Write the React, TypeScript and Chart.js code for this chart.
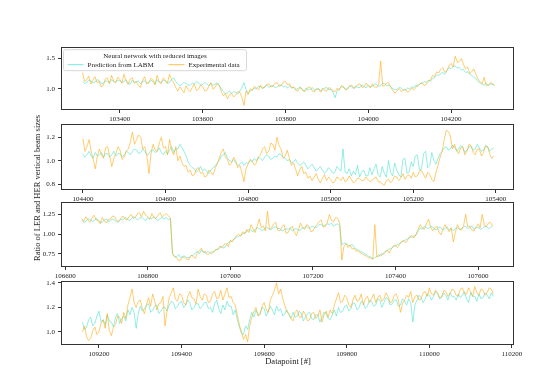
import React, { useEffect, useRef } from "react";
import { Chart, registerables } from "chart.js";
Chart.register(...registerables);

const STEP = 5;
const FONT = "'Liberation Serif', 'DejaVu Serif', serif";

// Panel 1
const p1Start = 103310;
const p1Pred = [
  1.12, 1.09, 1.10, 1.14, 1.13, 1.10, 1.11, 1.15, 1.14, 1.08, 1.09, 1.13, 1.12, 1.10, 1.15, 1.12, 1.11, 1.14, 1.13, 1.10,
  1.12, 1.15, 1.10, 1.07, 1.14, 1.11, 1.11, 1.13, 1.08, 1.12, 1.13, 1.09, 1.10, 1.14, 1.12, 1.08, 1.15, 1.11, 1.11, 1.14,
  1.13, 1.09, 1.10, 1.15, 1.18, 1.12, 1.08, 1.05, 1.07, 1.10, 1.09, 1.06, 1.06, 1.09, 1.08, 1.11, 1.10, 1.06, 1.07, 1.10,
  1.08, 1.05, 1.09, 1.06, 1.07, 1.10, 1.06, 1.00, 0.95, 0.92, 0.93, 0.96, 0.92, 0.95, 0.94, 0.91, 0.96, 1.02, 1.10, 0.98,
  0.93, 0.96, 0.98, 1.01, 1.00, 1.04, 1.03, 1.00, 1.04, 1.06, 1.02, 1.05, 1.05, 1.02, 1.03, 1.06, 1.06, 1.03, 1.04, 1.01,
  1.05, 1.01, 1.02, 0.99, 1.00, 1.03, 0.98, 0.96, 1.01, 0.98, 0.99, 1.02, 0.97, 0.99, 1.00, 0.97, 0.98, 1.01, 1.02, 0.98,
  0.99, 0.94, 0.85, 0.97, 1.00, 1.03, 1.02, 0.99, 1.01, 1.04, 1.03, 1.00, 1.05, 1.02, 1.02, 1.06, 1.04, 1.01, 1.06, 1.03,
  1.04, 1.08, 1.07, 1.04, 1.05, 1.09, 1.08, 1.05, 1.06, 1.02, 1.00, 0.98, 0.99, 1.02, 1.01, 0.97, 0.98, 1.01, 1.00, 1.03,
  1.02, 1.06, 1.05, 1.09, 1.08, 1.12, 1.10, 1.14, 1.12, 1.17, 1.18, 1.23, 1.22, 1.25, 1.27, 1.24, 1.30, 1.35, 1.33, 1.37,
  1.38, 1.34, 1.35, 1.31, 1.32, 1.27, 1.28, 1.24, 1.22, 1.19, 1.17, 1.12, 1.10, 1.07, 1.06, 1.09, 1.05, 1.08, 1.07, 1.06,
];
const p1Exp = [
  1.27, 1.12, 1.15, 1.21, 1.08, 1.14, 1.20, 1.10, 1.12, 1.03, 1.05, 1.16, 1.18, 1.08, 1.22, 1.13, 1.10, 1.19, 1.16, 1.09,
  1.24, 1.13, 1.07, 1.16, 1.18, 1.09, 1.12, 1.05, 1.02, 1.14, 1.20, 1.08, 1.10, 1.17, 1.15, 1.06, 1.22, 1.12, 1.08, 1.18,
  1.14, 1.09, 1.24, 1.15, 1.10, 1.02, 0.96, 1.03, 0.98, 0.93, 1.05, 0.99, 0.95, 1.02, 1.08, 0.97, 0.99, 1.06, 1.04, 0.96,
  0.97, 1.04, 1.10, 0.99, 1.02, 1.08, 1.06, 0.95, 0.88, 0.92, 0.83, 0.90, 0.92, 0.86, 0.90, 0.95, 0.94, 0.85, 0.72, 0.96,
  0.90, 1.00, 0.97, 1.04, 1.01, 0.98, 1.06, 1.01, 1.02, 1.07, 1.08, 1.03, 1.04, 1.09, 1.10, 1.04, 1.05, 1.11, 1.12, 1.06,
  1.08, 1.01, 1.03, 0.97, 0.96, 1.02, 1.00, 0.95, 0.97, 1.03, 1.02, 0.96, 0.95, 1.00, 0.99, 0.94, 1.01, 0.97, 0.96, 1.02,
  1.00, 0.96, 0.95, 1.01, 0.97, 1.05, 1.04, 0.98, 0.99, 1.05, 1.06, 1.01, 1.02, 1.07, 1.08, 1.02, 1.03, 1.09, 1.05, 1.01,
  1.08, 1.03, 1.02, 1.07, 1.46, 1.04, 1.05, 1.10, 1.09, 1.02, 0.96, 0.93, 0.97, 1.00, 0.95, 0.98, 0.99, 0.94, 0.96, 1.01,
  0.98, 1.03, 1.04, 1.08, 1.10, 1.05, 1.07, 1.13, 1.14, 1.22, 1.20, 1.28, 1.26, 1.32, 1.35, 1.27, 1.30, 1.38, 1.42, 1.36,
  1.54, 1.44, 1.45, 1.50, 1.40, 1.33, 1.36, 1.25, 1.28, 1.33, 1.24, 1.16, 1.12, 1.08, 1.19, 1.05, 1.06, 1.10, 1.08, 1.05,
];
const p1XTicks = [103400, 103600, 103800, 104000, 104200];
const p1YTicks = [1.0, 1.5];

// Panel 2
const p2Start = 104400;
const p2Pred = [
  1.06, 1.03, 1.05, 1.08, 1.04, 1.02, 1.07, 1.04, 1.05, 1.07, 1.03, 1.06, 1.06, 1.03, 1.05, 1.08, 1.04, 1.06, 1.06, 1.03,
  1.05, 1.08, 1.07, 1.05, 1.08, 1.10, 1.09, 1.06, 1.07, 1.10, 1.08, 1.05, 1.06, 1.09, 1.09, 1.07, 1.08, 1.11, 1.07, 1.05,
  1.08, 1.06, 1.09, 1.12, 1.07, 1.10, 1.10, 1.14, 1.11, 1.08, 1.04, 0.99, 0.96, 0.94, 0.93, 0.90, 0.92, 0.95, 0.91, 0.93,
  0.91, 0.89, 0.92, 0.94, 0.95, 0.98, 1.00, 1.04, 1.05, 1.07, 1.02, 1.00, 0.99, 1.01, 0.98, 0.96, 0.97, 0.99, 0.96, 0.98,
  0.98, 1.00, 0.99, 1.02, 1.00, 1.03, 1.02, 1.00, 1.03, 1.05, 1.04, 1.01, 1.02, 1.04, 1.03, 1.06, 1.05, 1.03, 1.02, 1.00,
  1.01, 0.98, 0.99, 1.01, 0.98, 0.96, 0.97, 0.99, 0.96, 0.93, 0.95, 0.97, 0.94, 0.91, 0.93, 0.95, 0.92, 0.89, 0.91, 0.94,
  0.92, 0.89, 0.90, 0.95, 0.93, 0.91, 1.10, 0.90, 0.89, 0.93, 0.87, 0.91, 0.88, 0.96, 0.86, 0.90, 0.92, 0.87, 0.87, 0.94,
  0.88, 0.93, 0.97, 0.88, 0.86, 0.95, 0.89, 0.86, 1.00, 0.90, 0.87, 0.98, 0.92, 0.88, 0.86, 1.01, 1.02, 0.89, 0.90, 0.99,
  0.95, 1.04, 1.05, 0.92, 0.93, 1.06, 1.08, 0.94, 0.96, 1.07, 1.00, 0.97, 1.02, 1.06, 1.08, 1.11, 1.12, 1.09, 1.10, 1.13,
  1.12, 1.08, 1.10, 1.13, 1.11, 1.07, 1.09, 1.12, 1.12, 1.09, 1.10, 1.14, 1.11, 1.08, 1.09, 1.13, 1.12, 1.08, 1.10, 1.11,
];
const p2Exp = [
  1.19, 1.08, 1.12, 1.18, 1.08, 1.01, 0.93, 1.04, 1.10, 1.05, 1.02, 1.11, 1.12, 1.03, 0.95, 1.02, 1.06, 1.12, 1.09, 1.01,
  1.03, 1.08, 1.10, 1.16, 1.245, 1.14, 1.18, 1.22, 1.20, 1.10, 1.12, 1.04, 0.89, 1.06, 1.14, 1.09, 1.08, 1.15, 1.20, 1.11,
  1.12, 1.05, 1.18, 1.09, 1.05, 1.12, 1.00, 1.04, 0.98, 0.95, 0.96, 0.90, 0.92, 0.87, 0.88, 0.93, 0.94, 0.89, 0.90, 0.86,
  0.87, 0.92, 0.90, 0.88, 0.93, 0.97, 1.02, 1.07, 1.10, 1.03, 1.01, 0.96, 0.98, 1.03, 1.00, 0.94, 0.96, 0.90, 0.82, 0.93,
  0.97, 1.01, 1.00, 0.96, 0.98, 1.03, 1.05, 1.10, 1.12, 1.06, 1.08, 1.15, 1.14, 1.09, 1.20, 1.13, 1.10, 1.02, 1.04, 1.09,
  1.02, 0.96, 0.98, 0.93, 0.87, 0.92, 0.95, 0.89, 0.90, 0.85, 0.87, 0.83, 0.86, 0.89, 0.84, 0.81, 0.85, 0.88, 0.83, 0.86,
  0.84, 0.81, 0.82, 0.86, 0.85, 0.83, 0.86, 0.82, 0.83, 0.87, 0.84, 0.81, 0.82, 0.85, 0.85, 0.83, 0.83, 0.86, 0.84, 0.82,
  0.83, 0.85, 0.86, 0.82, 0.82, 0.80, 0.79, 0.83, 0.84, 0.81, 0.83, 0.87, 0.86, 0.83, 0.85, 0.89, 0.84, 0.87, 0.88, 0.85,
  0.90, 0.86, 0.87, 0.91, 0.92, 0.88, 0.85, 0.90, 0.88, 0.84, 0.82, 0.90, 0.96, 1.03, 1.08, 1.18, 1.26, 1.25, 1.21, 1.10,
  1.14, 1.09, 1.06, 1.11, 1.12, 1.05, 1.08, 1.14, 1.13, 1.07, 1.05, 1.10, 1.10, 1.04, 1.07, 1.12, 1.12, 1.06, 1.02, 1.04,
];
const p2XTicks = [104400, 104600, 104800, 105000, 105200, 105400];
const p2YTicks = [0.8, 1.0, 1.2];

// Panel 3
const p3Start = 106640;
const p3Pred = [
  1.18, 1.15, 1.16, 1.19, 1.19, 1.16, 1.17, 1.20, 1.18, 1.15, 1.15, 1.18, 1.19, 1.16, 1.17, 1.19, 1.18, 1.15, 1.16, 1.19,
  1.18, 1.21, 1.20, 1.17, 1.19, 1.22, 1.21, 1.18, 1.20, 1.22, 1.19, 1.17, 1.21, 1.19, 1.20, 1.22, 1.19, 1.17, 1.20, 1.21,
  1.19, 1.21, 1.18, 1.20, 0.75, 0.72, 0.71, 0.74, 0.70, 0.72, 0.72, 0.70, 0.70, 0.73, 0.73, 0.76, 0.78, 0.75, 0.80, 0.77,
  0.76, 0.78, 0.77, 0.75, 0.78, 0.81, 0.80, 0.83, 0.84, 0.82, 0.86, 0.89, 0.90, 0.92, 0.94, 0.96, 0.97, 0.99, 1.00, 1.02,
  1.03, 1.06, 1.05, 1.03, 1.06, 1.08, 1.07, 1.05, 1.05, 1.08, 1.08, 1.06, 1.06, 1.09, 1.09, 1.07, 1.07, 1.04, 1.05, 1.07,
  1.06, 1.08, 1.04, 1.06, 1.07, 1.05, 1.05, 1.08, 1.08, 1.10, 1.07, 1.09, 1.10, 1.08, 1.09, 1.12, 1.12, 1.10, 1.11, 1.13,
  1.12, 1.14, 1.10, 1.12, 1.13, 1.11, 0.86, 0.89, 0.88, 0.86, 0.85, 0.87, 0.83, 0.81, 0.80, 0.78, 0.77, 0.75, 0.74, 0.72,
  0.71, 0.69, 0.70, 0.72, 0.74, 0.72, 0.76, 0.78, 0.79, 0.81, 0.82, 0.84, 0.85, 0.87, 0.88, 0.90, 0.91, 0.93, 0.94, 0.96,
  0.96, 0.98, 0.99, 1.04, 1.08, 1.06, 1.10, 1.08, 1.07, 1.10, 1.09, 1.06, 1.06, 1.09, 1.08, 1.05, 1.07, 1.09, 1.05, 1.07,
  1.04, 1.07, 1.08, 1.06, 1.07, 1.09, 1.10, 1.07, 1.08, 1.10, 1.06, 1.08, 1.09, 1.06, 1.07, 1.10, 1.10, 1.07, 1.08, 1.10,
];
const p3Exp = [
  1.20, 1.16, 1.22, 1.18, 1.15, 1.20, 1.24, 1.18, 1.17, 1.13, 1.21, 1.17, 1.14, 1.19, 1.19, 1.23, 1.22, 1.17, 1.16, 1.20,
  1.23, 1.19, 1.18, 1.22, 1.25, 1.20, 1.21, 1.26, 1.27, 1.22, 1.29, 1.24, 1.22, 1.19, 1.26, 1.21, 1.20, 1.24, 1.27, 1.22,
  1.24, 1.26, 1.23, 1.20, 0.76, 0.71, 0.70, 0.66, 0.67, 0.71, 0.70, 0.68, 0.68, 0.73, 0.72, 0.69, 0.76, 0.79, 0.82, 0.77,
  0.78, 0.74, 0.75, 0.78, 0.77, 0.80, 0.81, 0.85, 0.83, 0.87, 0.88, 0.84, 0.92, 0.90, 0.95, 0.98, 1.00, 0.97, 1.03, 1.00,
  1.06, 1.02, 1.12, 1.07, 1.02, 1.10, 1.19, 1.08, 1.10, 1.04, 1.29, 1.06, 1.08, 1.13, 1.15, 1.05, 1.04, 1.09, 1.12, 1.01,
  1.02, 1.07, 1.10, 1.03, 0.98, 1.05, 1.14, 1.08, 1.06, 1.12, 1.10, 1.03, 1.04, 1.09, 1.12, 1.16, 1.18, 1.09, 1.10, 1.15,
  1.25, 1.17, 1.16, 1.21, 1.20, 1.14, 0.67, 0.84, 0.88, 0.83, 0.86, 0.81, 0.82, 0.78, 0.79, 0.76, 0.75, 0.73, 0.72, 0.70,
  0.70, 0.68, 1.12, 0.71, 0.72, 0.75, 0.74, 0.77, 0.80, 0.76, 0.81, 0.85, 0.86, 0.83, 0.87, 0.91, 0.92, 0.89, 0.93, 0.97,
  0.98, 0.95, 1.00, 1.06, 1.12, 1.08, 1.06, 1.13, 1.19, 1.09, 1.04, 1.08, 1.10, 1.03, 0.99, 1.06, 1.12, 1.07, 1.03, 1.08,
  0.90, 1.02, 1.12, 1.06, 1.05, 1.11, 1.25, 1.09, 1.10, 1.05, 1.04, 1.09, 1.13, 1.08, 1.25, 1.12, 1.09, 1.14, 1.15, 1.10,
];
const p3XTicks = [106600, 106800, 107000, 107200, 107400, 107600];
const p3YTicks = [0.75, 1.0, 1.25];

// Panel 4
const p4Start = 109160;
const p4Pred = [
  1.08, 1.02, 1.04, 1.10, 1.12, 1.05, 1.07, 1.13, 1.17, 1.08, 1.10, 1.06, 1.14, 1.09, 1.08, 1.04, 1.12, 1.15, 1.07, 1.11,
  1.13, 1.09, 1.18, 1.14, 1.20, 1.16, 1.03, 1.15, 1.21, 1.17, 1.19, 1.22, 1.23, 1.16, 1.18, 1.21, 1.22, 1.15, 1.17, 1.20,
  1.20, 1.17, 1.22, 1.25, 1.24, 1.19, 1.21, 1.24, 1.25, 1.20, 1.22, 1.26, 1.24, 1.18, 1.20, 1.23, 1.23, 1.19, 1.21, 1.24,
  1.24, 1.19, 1.20, 1.16, 1.23, 1.26, 1.19, 1.15, 1.22, 1.18, 1.25, 1.21, 1.21, 1.14, 1.18, 1.10, 1.04, 0.99, 0.98, 1.05,
  1.02, 1.10, 1.16, 1.12, 1.18, 1.14, 1.15, 1.20, 1.19, 1.13, 1.17, 1.21, 1.18, 1.14, 1.21, 1.17, 1.19, 1.13, 1.15, 1.18,
  1.14, 1.11, 1.16, 1.12, 1.13, 1.17, 1.15, 1.09, 1.12, 1.15, 1.16, 1.11, 1.10, 1.14, 1.14, 1.08, 1.12, 1.16, 1.15, 1.11,
  1.10, 1.14, 1.18, 1.13, 1.20, 1.16, 1.17, 1.21, 1.22, 1.17, 1.19, 1.24, 1.23, 1.18, 1.20, 1.25, 1.24, 1.19, 1.21, 1.26,
  1.25, 1.21, 1.22, 1.27, 1.26, 1.20, 1.24, 1.28, 1.27, 1.22, 1.23, 1.26, 1.26, 1.21, 1.22, 1.27, 1.25, 1.22, 1.27, 1.24,
  1.08, 1.22, 1.26, 1.30, 1.28, 1.24, 1.27, 1.31, 1.30, 1.26, 1.29, 1.33, 1.31, 1.27, 1.28, 1.32, 1.30, 1.26, 1.32, 1.29,
  1.29, 1.26, 1.31, 1.28, 1.30, 1.33, 1.27, 1.24, 1.32, 1.29, 1.29, 1.25, 1.31, 1.27, 1.28, 1.32, 1.30, 1.27, 1.32, 1.29,
];
const p4Exp = [
  1.00, 1.05, 0.96, 0.93, 0.95, 1.01, 1.04, 0.98, 1.00, 1.07, 1.10, 1.03, 1.15, 1.01, 0.97, 1.04, 1.06, 1.13, 1.12, 1.07,
  1.16, 1.11, 1.22, 1.28, 1.35, 1.24, 1.20, 1.25, 1.26, 1.19, 1.15, 1.22, 1.28, 1.21, 1.31, 1.25, 1.18, 1.23, 1.24, 1.29,
  1.05, 1.18, 1.28, 1.32, 1.36, 1.27, 1.25, 1.31, 1.30, 1.24, 1.22, 1.29, 1.33, 1.28, 1.27, 1.23, 1.35, 1.29, 1.26, 1.31,
  1.30, 1.24, 1.25, 1.31, 1.33, 1.27, 1.28, 1.34, 1.26, 1.31, 1.36, 1.28, 1.29, 1.24, 1.22, 1.14, 1.06, 1.00, 0.94, 0.98,
  0.92, 1.05, 1.12, 1.17, 1.20, 1.13, 1.14, 1.21, 1.24, 1.18, 1.16, 1.26, 1.30, 1.34, 1.40, 1.31, 1.35, 1.27, 1.22, 1.16,
  1.15, 1.11, 1.09, 1.16, 1.18, 1.12, 1.12, 1.17, 1.14, 1.09, 1.10, 1.15, 1.16, 1.11, 1.13, 1.18, 1.08, 1.14, 1.17, 1.12,
  1.18, 1.15, 1.22, 1.27, 1.32, 1.24, 1.25, 1.30, 1.28, 1.22, 1.20, 1.26, 1.30, 1.25, 1.26, 1.31, 1.22, 1.27, 1.29, 1.24,
  1.27, 1.31, 1.24, 1.28, 1.30, 1.25, 1.27, 1.32, 1.29, 1.24, 1.25, 1.30, 1.31, 1.26, 1.16, 1.23, 1.26, 1.30, 1.28, 1.33,
  1.24, 1.29, 1.30, 1.26, 1.27, 1.32, 1.33, 1.29, 1.36, 1.31, 1.30, 1.34, 1.32, 1.28, 1.29, 1.34, 1.33, 1.29, 1.31, 1.35,
  1.34, 1.30, 1.29, 1.35, 1.36, 1.31, 1.31, 1.36, 1.33, 1.29, 1.37, 1.32, 1.30, 1.35, 1.34, 1.30, 1.32, 1.36, 1.35, 1.31,
];
const p4XTicks = [109200, 109400, 109600, 109800, 110000, 110200];
const p4YTicks = [1.0, 1.2, 1.4];

const PRED_COLOR = "rgba(64, 224, 208, 0.7)";
const EXP_COLOR = "rgba(255, 165, 0, 0.7)";
const LEGEND_TITLE = "Neural network with reduced images";
const PRED_LABEL = "Prediction from LABM";
const EXP_LABEL = "Experimental data";

type Panel = {
  start: number;
  pred: number[];
  exp: number[];
  xMin: number;
  xMax: number;
  yMin: number;
  yMax: number;
  xTicks: number[];
  yTicks: number[];
  yDec: number;
  top: number;
  bottom: number;
  legend: boolean;
};

const PANELS: Panel[] = [
  { start: p1Start, pred: p1Pred, exp: p1Exp, xMin: 103258, xMax: 104352, yMin: 0.645, yMax: 1.69, xTicks: p1XTicks, yTicks: p1YTicks, yDec: 1, top: 46, bottom: 110, legend: true },
  { start: p2Start, pred: p2Pred, exp: p2Exp, xMin: 104347, xMax: 105444, yMin: 0.749, yMax: 1.312, xTicks: p2XTicks, yTicks: p2YTicks, yDec: 1, top: 123, bottom: 190, legend: false },
  { start: p3Start, pred: p3Pred, exp: p3Exp, xMin: 106590, xMax: 107687, yMin: 0.583, yMax: 1.404, xTicks: p3XTicks, yTicks: p3YTicks, yDec: 2, top: 201, bottom: 267, legend: false },
  { start: p4Start, pred: p4Pred, exp: p4Exp, xMin: 109108, xMax: 110205, yMin: 0.894, yMax: 1.414, xTicks: p4XTicks, yTicks: p4YTicks, yDec: 1, top: 280, bottom: 345, legend: false },
];

const LEFT = 61;
const RIGHT = 514;
const W = 560;
const PAD_TOP = 6;
const XAXIS_H = 20;

const boxPlugin = {
  id: "boxPlugin",
  afterDraw(chart: any) {
    const { ctx, chartArea: a } = chart;
    ctx.save();
    ctx.strokeStyle = "#333";
    ctx.lineWidth = 1;
    ctx.strokeRect(Math.round(a.left) + 0.5, Math.round(a.top) + 0.5, Math.round(a.right - a.left) - 1, Math.round(a.bottom - a.top) - 1);
    ctx.restore();
  },
};

const legendPlugin = {
  id: "legendPlugin",
  afterDraw(chart: any, _args: any, opts: any) {
    if (!opts || !opts.show) return;
    const { ctx, chartArea: a } = chart;
    const x = a.left + 2.5;
    const y = a.top + 2.5;
    const w = 183;
    const h = 21;
    ctx.save();
    ctx.fillStyle = "rgba(255,255,255,0.85)";
    ctx.strokeStyle = "#d8d8d8";
    ctx.lineWidth = 1;
    ctx.beginPath();
    const r = 2;
    ctx.moveTo(x + r, y);
    ctx.lineTo(x + w - r, y);
    ctx.quadraticCurveTo(x + w, y, x + w, y + r);
    ctx.lineTo(x + w, y + h - r);
    ctx.quadraticCurveTo(x + w, y + h, x + w - r, y + h);
    ctx.lineTo(x + r, y + h);
    ctx.quadraticCurveTo(x, y + h, x, y + h - r);
    ctx.lineTo(x, y + r);
    ctx.quadraticCurveTo(x, y, x + r, y);
    ctx.closePath();
    ctx.fill();
    ctx.stroke();
    ctx.fillStyle = "#222";
    ctx.font = `7px ${FONT}`;
    ctx.textBaseline = "middle";
    ctx.textAlign = "center";
    ctx.fillText(LEGEND_TITLE, x + w / 2, y + 6.5);
    ctx.textAlign = "left";
    const ly = y + 15;
    ctx.lineWidth = 1;
    ctx.strokeStyle = PRED_COLOR;
    ctx.beginPath();
    ctx.moveTo(x + 4, ly);
    ctx.lineTo(x + 20, ly);
    ctx.stroke();
    ctx.fillText(PRED_LABEL, x + 24, ly);
    ctx.strokeStyle = EXP_COLOR;
    ctx.beginPath();
    ctx.moveTo(x + 105, ly);
    ctx.lineTo(x + 121, ly);
    ctx.stroke();
    ctx.fillText(EXP_LABEL, x + 125, ly);
    ctx.restore();
  },
};

function PanelChart({ p }: { p: Panel }) {
  const ref = useRef<HTMLCanvasElement | null>(null);
  const h = PAD_TOP + (p.bottom - p.top) + XAXIS_H;
  useEffect(() => {
    if (!ref.current) return;
    const toPts = (arr: number[]) => arr.map((v, i) => ({ x: p.start + i * STEP, y: v }));
    const chart = new Chart(ref.current, {
      type: "line",
      data: {
        datasets: [
          { label: EXP_LABEL, data: toPts(p.exp), borderColor: EXP_COLOR, borderWidth: 0.8, pointRadius: 0, fill: false, tension: 0 },
          { label: PRED_LABEL, data: toPts(p.pred), borderColor: PRED_COLOR, borderWidth: 0.8, pointRadius: 0, fill: false, tension: 0 },
        ],
      },
      options: {
        responsive: false,
        animation: false,
        events: [],
        layout: { padding: { top: PAD_TOP, right: W - RIGHT, left: 0, bottom: 0 } },
        plugins: {
          legend: { display: false },
          tooltip: { enabled: false },
          legendPlugin: { show: p.legend },
        } as any,
        scales: {
          x: {
            type: "linear",
            min: p.xMin,
            max: p.xMax,
            afterBuildTicks: (s: any) => {
              s.ticks = p.xTicks.map((v) => ({ value: v }));
            },
            afterFit: (s: any) => {
              s.height = XAXIS_H;
            },
            grid: { drawOnChartArea: false, drawTicks: true, tickLength: 3, color: "#333" },
            border: { display: false },
            ticks: {
              font: { family: FONT, size: 7 },
              color: "#222",
              padding: 2,
              maxRotation: 0,
              autoSkip: false,
              callback: (v: any) => String(v),
            },
          },
          y: {
            type: "linear",
            min: p.yMin,
            max: p.yMax,
            afterBuildTicks: (s: any) => {
              s.ticks = p.yTicks.map((v) => ({ value: v }));
            },
            afterFit: (s: any) => {
              s.width = LEFT;
            },
            grid: { drawOnChartArea: false, drawTicks: true, tickLength: 3, color: "#333" },
            border: { display: false },
            ticks: {
              font: { family: FONT, size: 7 },
              color: "#222",
              padding: 3,
              autoSkip: false,
              callback: (v: any) => Number(v).toFixed(p.yDec),
            },
          },
        },
      } as any,
      plugins: [boxPlugin, legendPlugin],
    });
    return () => chart.destroy();
  }, []);
  return (
    <canvas
      ref={ref}
      width={W}
      height={h}
      style={{ position: "absolute", left: 0, top: p.top - PAD_TOP, width: W, height: h }}
    />
  );
}

export default function App() {
  return (
    <div style={{ position: "fixed", left: 0, top: 0, width: 560, height: 387, background: "#fff", overflow: "hidden" }}>
      {PANELS.map((p, i) => (
        <PanelChart key={i} p={p} />
      ))}
      <div
        style={{
          position: "absolute",
          left: 37,
          top: 188,
          transform: "translate(-50%, -50%) rotate(-90deg)",
          whiteSpace: "nowrap",
          fontFamily: FONT,
          fontSize: 8.5,
          color: "#222",
        }}
      >
        Ratio of LER and HER vertical beam sizes
      </div>
      <div
        style={{
          position: "absolute",
          left: 288,
          top: 361,
          transform: "translate(-50%, -50%)",
          whiteSpace: "nowrap",
          fontFamily: FONT,
          fontSize: 8.5,
          color: "#222",
        }}
      >
        Datapoint [#]
      </div>
    </div>
  );
}
